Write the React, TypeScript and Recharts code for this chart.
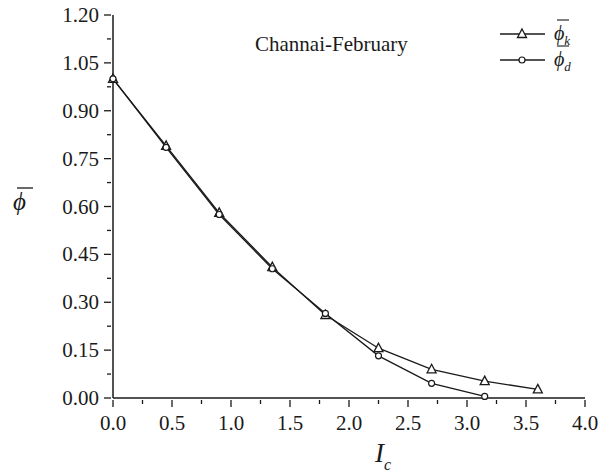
import { LineChart, Line, XAxis, YAxis } from "recharts"

// valores
const icValues = [0, 0.45, 0.9, 1.35, 1.8, 2.25, 2.7, 3.15, 3.6]
const phiK = [1.0, 0.79, 0.58, 0.41, 0.26, 0.156, 0.09, 0.053, 0.027]
const phiD = [1.0, 0.785, 0.575, 0.405, 0.265, 0.132, 0.046, 0.005]

const xTicks = [0, 0.25, 0.5, 0.75, 1, 1.25, 1.5, 1.75, 2, 2.25, 2.5, 2.75, 3, 3.25, 3.5, 3.75, 4]
const yTicks = [0, 0.075, 0.15, 0.225, 0.3, 0.375, 0.45, 0.525, 0.6, 0.675, 0.75, 0.825, 0.9, 0.975, 1.05, 1.125, 1.2]

const data = icValues.map((ic, i) => ({ ic, phiK: phiK[i], phiD: phiD[i] }))

const FONT = "'Liberation Serif', 'Times New Roman', serif"
const INK = "#1a1a1a"
const txt = { fontFamily: FONT }

const XTick = ({ x, y, payload, index }: any) => {
  const major = index % 2 === 0
  return (
    <g>
      <line x1={x} x2={x} y1={y} y2={y + (major ? 7 : 4)} stroke={INK} strokeWidth={1.3} />
      {major && (
        <text x={x} y={y + 30} textAnchor="middle" style={txt} fontSize={21} fill={INK}>
          {payload.value.toFixed(1)}
        </text>
      )}
    </g>
  )
}

const YTick = ({ x, y, payload, index }: any) => {
  const major = index % 2 === 0
  return (
    <g>
      <line x1={x} x2={x - (major ? 7 : 4)} y1={y} y2={y} stroke={INK} strokeWidth={1.3} />
      {major && (
        <text x={x - 12} y={y + 7} textAnchor="end" style={txt} fontSize={21} fill={INK}>
          {payload.value.toFixed(2)}
        </text>
      )}
    </g>
  )
}

const TriangleDot = ({ cx, cy }: any) => {
  if (cx == null || cy == null) return null
  return (
    <path
      d={`M${cx},${cy - 5} L${cx + 4.5},${cy + 3.5} L${cx - 4.5},${cy + 3.5} Z`}
      fill="#fff"
      stroke={INK}
      strokeWidth={1.3}
    />
  )
}

const CircleDot = ({ cx, cy }: any) => {
  if (cx == null || cy == null) return null
  return <circle cx={cx} cy={cy} r={3} fill="#fff" stroke={INK} strokeWidth={1.2} />
}

export default function App() {
  return (
    <div style={{ position: "absolute", left: 0, top: 0, width: 604, height: 476, background: "#fff", fontFamily: FONT }}>
      <LineChart width={604} height={476} data={data} margin={{ top: 15, right: 19, left: 53, bottom: 38 }} style={txt}>
        <XAxis
          dataKey="ic"
          type="number"
          domain={[0, 4]}
          ticks={xTicks}
          interval={0}
          height={40}
          tickSize={0}
          tickLine={false}
          axisLine={{ stroke: INK, strokeWidth: 1.5 }}
          tick={<XTick />}
          label={{
            content: () => (
              <text x={375} y={462} style={txt} fontStyle="italic" fill={INK}>
                <tspan fontSize={27}>I</tspan>
                <tspan fontSize={16} dy={8}>c</tspan>
              </text>
            ),
          }}
        />
        <XAxis xAxisId="top" orientation="top" type="number" domain={[0, 4]} height={0} tick={false} tickLine={false} axisLine={{ stroke: INK, strokeWidth: 1.5 }} />
        <YAxis
          type="number"
          domain={[0, 1.2]}
          ticks={yTicks}
          interval={0}
          width={60}
          tickSize={0}
          tickLine={false}
          axisLine={{ stroke: INK, strokeWidth: 1.5 }}
          tick={<YTick />}
          label={{
            content: () => (
              <g>
                <line x1={17} x2={33} y1={188} y2={188} stroke={INK} strokeWidth={1.3} />
                <text x={13} y={210} style={txt} fontStyle="italic" fontSize={25} fill={INK}>ϕ</text>
              </g>
            ),
          }}
        />
        <YAxis yAxisId="right" orientation="right" type="number" domain={[0, 1.2]} width={0} tick={false} tickLine={false} axisLine={{ stroke: INK, strokeWidth: 1.5 }} />
        <Line
          dataKey="phiK"
          type="linear"
          stroke={INK}
          strokeWidth={1.3}
          dot={<TriangleDot />}
          activeDot={false}
          isAnimationActive={false}
        />
        <Line
          dataKey="phiD"
          type="linear"
          stroke={INK}
          strokeWidth={1.3}
          dot={<CircleDot />}
          activeDot={false}
          isAnimationActive={false}
        />
      </LineChart>

      {/* título y leyenda encima del gráfico */}
      <svg width={604} height={476} style={{ position: "absolute", left: 0, top: 0, pointerEvents: "none" }}>
        <text x={255} y={51} style={txt} fontSize={21} fill={INK}>Channai-February</text>

        <line x1={500} x2={545} y1={34} y2={34} stroke={INK} strokeWidth={1.3} />
        <path d="M522,29 L526.5,37.5 L517.5,37.5 Z" fill="#fff" stroke={INK} strokeWidth={1.3} />
        <line x1={557} x2={569} y1={20} y2={20} stroke={INK} strokeWidth={1.1} />
        <text x={554} y={40} style={txt} fontStyle="italic" fill={INK}>
          <tspan fontSize={20}>ϕ</tspan>
          <tspan fontSize={13} dy={5}>k</tspan>
        </text>

        <line x1={500} x2={545} y1={60} y2={60} stroke={INK} strokeWidth={1.3} />
        <circle cx={522} cy={60} r={3} fill="#fff" stroke={INK} strokeWidth={1.2} />
        <line x1={557} x2={569} y1={46} y2={46} stroke={INK} strokeWidth={1.1} />
        <text x={554} y={66} style={txt} fontStyle="italic" fill={INK}>
          <tspan fontSize={20}>ϕ</tspan>
          <tspan fontSize={13} dy={5}>d</tspan>
        </text>
      </svg>
    </div>
  )
}
